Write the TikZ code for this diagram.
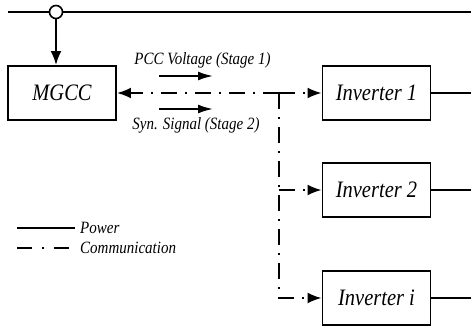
\documentclass[tikz,border=0pt]{standalone}
\usepackage{fontspec}
\setmainfont{Liberation Serif}
\usetikzlibrary{arrows.meta}
\newcommand{\tall}[1]{\scalebox{1}[1.15]{#1}}
\begin{document}
\begin{tikzpicture}[x=1pt,y=-1pt,
  box/.style={draw,line width=1.9pt,minimum width=108pt,minimum height=54pt,inner sep=0pt,
    font=\fontsize{20.5}{24}\selectfont\itshape},
  pwr/.style={line width=2pt},
  comm/.style={line width=2pt,dash pattern=on 16pt off 8pt on 2pt off 8pt},
  tip/.style={-{Latex[length=14pt,width=11pt]}},
  smalltip/.style={-{Latex[length=15pt,width=9pt]}},
  lbl/.style={font=\fontsize{15}{18}\selectfont\itshape,inner sep=0pt}]
\useasboundingbox (0,0) rectangle (471,329);
% bus
\coordinate (busL) at (8,12);
\coordinate (busR) at (471,12);
\draw[pwr] (busL) -- (busR);
\node[circle,draw,fill=white,line width=1.6pt,minimum size=13pt,inner sep=0pt] (pcc) at (56,12) {};
% boxes
\node[box] (mgcc) at (62,93) {\tall{MGCC}};
\node[box] (inv1) at (376.5,93) {\tall{Inverter 1}};
\node[box] (inv2) at (376.5,190) {\tall{Inverter 2}};
\node[box] (invi) at (376.5,298) {\tall{Inverter \textit{i}}};
\draw[pwr,tip] (pcc.south) -- (pcc.south |- mgcc.north);
% power outputs
\coordinate (o1) at (471,93);
\coordinate (o2) at (471,190);
\coordinate (oi) at (471,298);
\draw[pwr] (inv1.east) -- (o1);
\draw[pwr] (inv2.east) -- (o2);
\draw[pwr] (invi.east) -- (oi);
% communication
\coordinate (J) at (279,93);
\draw[comm,tip] (J) -- (mgcc.east);
\draw[comm,tip] (J) -- (inv1.west);
\draw[comm,tip] (J) |- (invi.west);
\draw[comm,tip] (J |- inv2.west) -- (inv2.west);
% stage arrows
\coordinate (a1s) at (159,76);
\coordinate (a1e) at (213,76);
\coordinate (a2s) at (159,109);
\coordinate (a2e) at (213,109);
\draw[pwr,smalltip] (a1s) -- (a1e);
\draw[pwr,smalltip] (a2s) -- (a2e);
\node[lbl] (t1) at (202.5,60) {\tall{PCC Voltage (Stage 1)}};
\node[lbl] (t2) at (196,125) {\tall{Syn. Signal (Stage 2)}};
% legend
\coordinate (l1s) at (17,228);
\coordinate (l1e) at (75,228);
\coordinate (l2s) at (17,248);
\coordinate (l2e) at (75,248);
\draw[pwr] (l1s) -- (l1e);
\draw[line width=2pt,dash pattern=on 15pt off 10pt on 2pt off 10pt] (l2s) -- (l2e);
\node[lbl,anchor=west] (lp) at (80,228) {\tall{Power}};
\node[lbl,anchor=west] (lc) at (80,248) {\tall{Communication}};
\end{tikzpicture}
\end{document}
